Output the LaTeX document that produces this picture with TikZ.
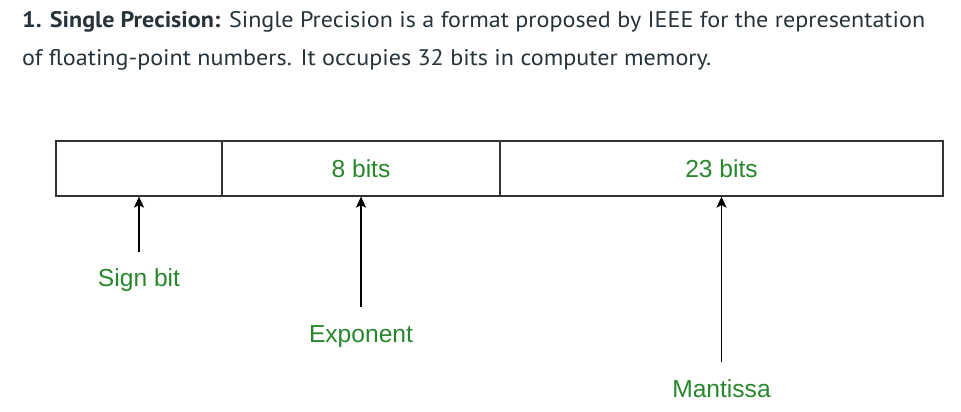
\documentclass[tikz,border=0pt]{standalone}
\usepackage{fontspec}
\usepackage{graphicx}
\usetikzlibrary{arrows.meta}
\newfontfamily\diagfont{Liberation Sans}
\newfontfamily\hdrfont{PT Sans}
\definecolor{hdrgray}{HTML}{273239}
\definecolor{lblgreen}{RGB}{40,134,44}
\definecolor{boxgray}{RGB}{51,51,51}
\newlength\lineonew
\newcommand\lineonetext{\hdrfont\fontsize{22.5}{26}\selectfont\textbf{1. Single Precision:} Single Precision is a format proposed by IEEE for the representation}
\AtBeginDocument{\settowidth\lineonew{\lineonetext}}
\begin{document}
\begin{tikzpicture}[x=1pt,y=-1pt,
  cell/.style={draw=boxgray, line width=1.2pt, rectangle, inner sep=0pt,
    minimum height=55pt, font=\diagfont\fontsize{24.6}{28}\selectfont, text=lblgreen},
  lbl/.style={inner sep=0pt, anchor=base, font=\diagfont\fontsize{24.6}{28}\selectfont, text=lblgreen},
  hdr/.style={inner sep=0pt, anchor=base west, text=hdrgray},
  pointer/.style={draw=black, line width=1.3pt, -{Stealth[length=11pt,width=10pt,inset=2.5pt]}}
]
\useasboundingbox (0,0) rectangle (961,412);
\pgfmathsetmacro\hsx{903/\lineonew}
% header text
\node[hdr] (line1) at (22,28) {\scalebox{\hsx}[1]{\lineonetext}};
\node[hdr] (line2) at (22,66) {\scalebox{\hsx}[1]{\hdrfont\fontsize{22.5}{26}\selectfont of floating-point numbers. It occupies 32 bits in computer memory.}};
% register cells
\node[cell, minimum width=166pt] (cell1) at (139,168.5) {};
\node[cell, minimum width=278pt] (cell2) at (361,168.5) {8 bits};
\node[cell, minimum width=443pt] (cell3) at (721.5,168.5) {23 bits};
% labels
\node[lbl] (sign) at (139,286) {Sign bit};
\node[lbl] (expo) at (361,342) {Exponent};
\node[lbl] (mant) at (721.5,397) {Mantissa};
% arrow tails
\coordinate (signt) at (139,252);
\coordinate (expt) at (361,307);
\coordinate (mantt) at (721.5,362);
\draw[pointer] (signt) -- (cell1.south);
\draw[pointer] (expt) -- (cell2.south);
\draw[pointer] (mantt) -- (cell3.south);
\end{tikzpicture}
\end{document}
